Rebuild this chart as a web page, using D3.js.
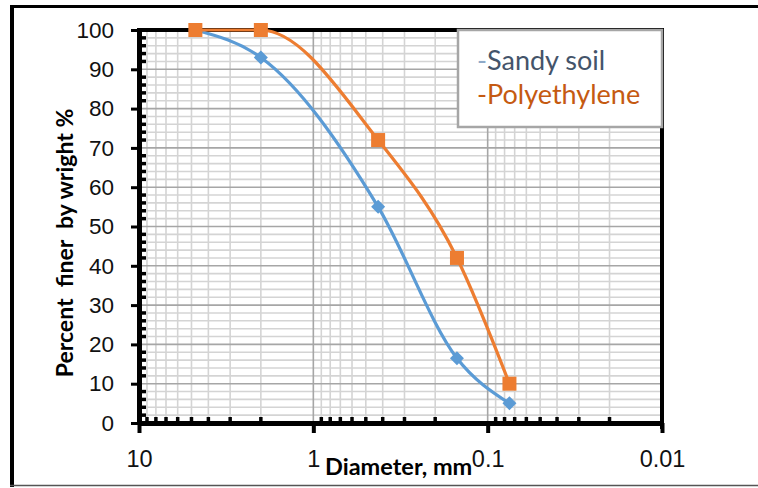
<!DOCTYPE html>
<html>
<head>
<meta charset="utf-8">
<script src="https://cdn.jsdelivr.net/npm/d3@7"></script>
<style>
  html, body { margin: 0; padding: 0; background: #fff; }
  svg { display: block; font-family: Lato, "Open Sans", sans-serif; }
</style>
</head>
<body>
<svg id="chart"></svg>
<script>
// ================================
// DATA
// ================================
const diameters = [4.75, 2, 0.425, 0.15, 0.075];
const sandySoil = [100, 93, 55, 16.5, 5];
const polyethylene = [100, 100, 72, 42, 10];
const seriesNames = ["Sandy soil", "Polyethylene"];
const xTickValues = [10, 1, 0.1, 0.01];
const xTickLabels = ["10", "1", "0.1", "0.01"];
const yTickValues = [0, 10, 20, 30, 40, 50, 60, 70, 80, 90, 100];

// ================================
// SVG SETUP
// ================================
const width = 758;
const height = 488;
const plot = { left: 139, right: 662, top: 30, bottom: 423 };

const svg = d3.select("#chart")
    .attr("width", width)
    .attr("height", height);

const x = d3.scaleLog().domain([10, 0.01]).range([plot.left, plot.right]);
const y = d3.scaleLinear().domain([0, 100]).range([plot.bottom, plot.top]);

// minor log values 2..9 in each decade
const minorX = [];
[1, 0.1, 0.01].forEach(dec => {
    for (let k = 2; k <= 9; k++) minorX.push(+(k * dec).toPrecision(3));
});
const minorY = d3.range(0, 101, 2).filter(v => v % 10 !== 0);

// ================================
// OUTER FRAME
// ================================
svg.append("line").attr("x1", 12).attr("x2", 12).attr("y1", 5).attr("y2", 487)
    .attr("stroke", "#000").attr("stroke-width", 4);
svg.append("line").attr("x1", 10).attr("x2", width).attr("y1", 6.5).attr("y2", 6.5)
    .attr("stroke", "#000").attr("stroke-width", 3);
svg.append("line").attr("x1", 10).attr("x2", width).attr("y1", 485.5).attr("y2", 485.5)
    .attr("stroke", "#555").attr("stroke-width", 1.5);

// ================================
// GRID
// ================================
const grid = svg.append("g");

grid.selectAll("line.vminor").data(minorX).join("line")
    .attr("x1", d => x(d)).attr("x2", d => x(d))
    .attr("y1", plot.top).attr("y2", plot.bottom)
    .attr("stroke", "#d4d4d4").attr("stroke-width", 1.6);

grid.selectAll("line.hminor").data(minorY).join("line")
    .attr("x1", plot.left).attr("x2", plot.right)
    .attr("y1", d => y(d)).attr("y2", d => y(d))
    .attr("stroke", "#d4d4d4").attr("stroke-width", 1.6);

grid.selectAll("line.vmajor").data([1, 0.1]).join("line")
    .attr("x1", d => x(d)).attr("x2", d => x(d))
    .attr("y1", plot.top).attr("y2", plot.bottom)
    .attr("stroke", "#a6a6a6").attr("stroke-width", 1.6);

grid.selectAll("line.hmajor").data(yTickValues.slice(1, -1)).join("line")
    .attr("x1", plot.left).attr("x2", plot.right)
    .attr("y1", d => y(d)).attr("y2", d => y(d))
    .attr("stroke", "#a6a6a6").attr("stroke-width", 1.6);

// ================================
// AXES
// ================================
const xAxis = svg.append("g")
    .attr("transform", `translate(0, ${plot.bottom})`)
    .call(d3.axisBottom(x).tickValues(xTickValues).tickFormat((d, i) => xTickLabels[i])
        .tickSizeInner(10).tickSizeOuter(0).tickPadding(17));
xAxis.select(".domain").attr("stroke", "#000").attr("stroke-width", 5);
xAxis.selectAll(".tick line").attr("stroke", "#000").attr("stroke-width", 4);
xAxis.selectAll(".tick text").attr("font-size", "23.5px").attr("fill", "#111");

// x minor ticks (inward)
svg.append("g").selectAll("line").data(minorX).join("line")
    .attr("x1", d => x(d)).attr("x2", d => x(d))
    .attr("y1", plot.bottom).attr("y2", plot.bottom - 6)
    .attr("stroke", "#000").attr("stroke-width", 3.5);

const yAxis = svg.append("g")
    .attr("transform", `translate(${plot.left}, 0)`)
    .call(d3.axisLeft(y).tickValues(yTickValues)
        .tickSizeInner(8).tickSizeOuter(0).tickPadding(17));
yAxis.select(".domain").attr("stroke", "#000").attr("stroke-width", 5);
yAxis.selectAll(".tick line").attr("stroke", "#000").attr("stroke-width", 3);
yAxis.selectAll(".tick text").attr("font-size", "22.5px").attr("fill", "#111");

// y minor ticks (inward)
svg.append("g").selectAll("line").data(minorY).join("line")
    .attr("x1", plot.left).attr("x2", plot.left + 7)
    .attr("y1", d => y(d)).attr("y2", d => y(d))
    .attr("stroke", "#000").attr("stroke-width", 3.5);

// plot border (top / right)
svg.append("line").attr("x1", plot.left - 2).attr("x2", plot.right + 2)
    .attr("y1", plot.top).attr("y2", plot.top)
    .attr("stroke", "#000").attr("stroke-width", 4);
svg.append("line").attr("x1", plot.right).attr("x2", plot.right)
    .attr("y1", plot.top).attr("y2", plot.bottom + 6)
    .attr("stroke", "#000").attr("stroke-width", 4);

// ================================
// SERIES
// ================================
const line = d3.line()
    .x(d => x(d[0]))
    .y(d => y(d[1]))
    .curve(d3.curveMonotoneX);

const sandyPts = diameters.map((d, i) => [d, sandySoil[i]]);
const polyPts = diameters.map((d, i) => [d, polyethylene[i]]);

svg.append("path").datum(sandyPts)
    .attr("d", line).attr("fill", "none")
    .attr("stroke", "#5b9bd5").attr("stroke-width", 3.2);

svg.append("g").selectAll("path").data(sandyPts).join("path")
    .attr("transform", d => `translate(${x(d[0])}, ${y(d[1])})`)
    .attr("d", "M0,-7L7,0L0,7L-7,0Z")
    .attr("fill", "#5b9bd5");

svg.append("path").datum(polyPts)
    .attr("d", line).attr("fill", "none")
    .attr("stroke", "#ed7d31").attr("stroke-width", 3.2);

svg.append("g").selectAll("rect").data(polyPts).join("rect")
    .attr("x", d => x(d[0]) - 7).attr("y", d => y(d[1]) - 7)
    .attr("width", 14).attr("height", 14)
    .attr("fill", "#ed7d31");

// ================================
// AXIS TITLES
// ================================
svg.append("text")
    .attr("transform", "translate(73, 243) rotate(-90)")
    .attr("text-anchor", "middle")
    .attr("font-size", "23px").attr("font-weight", "700")
    .attr("fill", "#000")
    .text("Percent\u00a0 finer\u00a0 by wright %");

svg.append("text")
    .attr("x", 325).attr("y", 475)
    .attr("font-size", "23.5px").attr("font-weight", "700")
    .attr("fill", "#000")
    .text("Diameter, mm");

// ================================
// LEGEND
// ================================
const legend = svg.append("g");
legend.append("rect")
    .attr("x", 458).attr("y", 30).attr("width", 204).attr("height", 97)
    .attr("fill", "#fff").attr("stroke", "#a6a6a6").attr("stroke-width", 2.5);

const legendRows = [
    { dash: "#8ea9c8", color: "#44546a", label: seriesNames[0], y: 70 },
    { dash: "#c55a11", color: "#c55a11", label: seriesNames[1], y: 104 }
];
const lt = legend.selectAll("text").data(legendRows).join("text")
    .attr("x", 477).attr("y", d => d.y)
    .attr("font-size", "27px");
lt.append("tspan").attr("fill", d => d.dash).text("-");
lt.append("tspan").attr("fill", d => d.color).text(d => d.label);
</script>
</body>
</html>
